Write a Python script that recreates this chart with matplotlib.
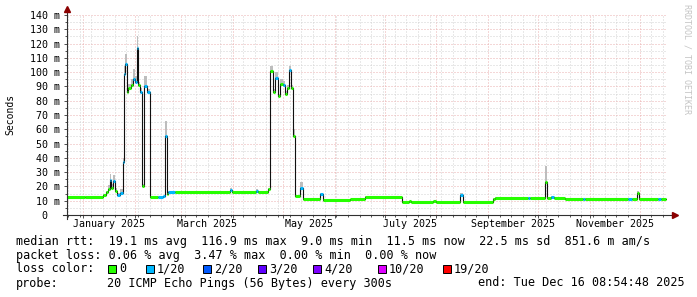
import pandas as pd
import matplotlib
matplotlib.use("Agg")
import matplotlib.pyplot as plt
import matplotlib.dates as mdates
import matplotlib.ticker as mticker
from matplotlib.patches import Rectangle

plt.rcParams["font.family"] = ["DejaVu Sans Mono"]

W, H = 697, 297

# median rtt, step points (ms)
rtt_time = [
    "2024-12-22 10:00", "2025-01-02 05:00", "2025-01-13 00:00", "2025-01-14 19:00",
    "2025-01-16 00:00", "2025-01-17 05:00", "2025-01-18 02:00", "2025-01-19 00:00",
    "2025-01-20 05:00", "2025-01-21 10:00", "2025-01-23 05:00", "2025-01-25 00:00",
    "2025-01-25 14:00", "2025-01-26 05:00", "2025-01-27 10:00", "2025-01-28 00:00",
    "2025-01-29 19:00", "2025-01-31 00:00", "2025-02-01 05:00", "2025-02-02 10:00",
    "2025-02-03 00:00", "2025-02-04 05:00", "2025-02-05 10:00", "2025-02-06 14:00",
    "2025-02-08 10:00", "2025-02-10 05:00", "2025-02-15 00:00", "2025-02-18 00:00",
    "2025-02-19 05:00", "2025-02-20 10:00", "2025-02-21 00:00", "2025-02-25 05:00",
    "2025-03-30 05:00", "2025-03-31 10:00", "2025-04-14 19:00", "2025-04-16 00:00",
    "2025-04-22 00:00", "2025-04-23 05:00", "2025-04-25 00:00", "2025-04-26 05:00",
    "2025-04-28 00:00", "2025-04-29 05:00", "2025-05-01 00:00", "2025-05-02 05:00",
    "2025-05-03 10:00", "2025-05-04 14:00", "2025-05-05 19:00", "2025-05-07 00:00",
    "2025-05-08 05:00", "2025-05-11 05:00", "2025-05-13 00:00", "2025-05-23 05:00",
    "2025-05-25 00:00", "2025-06-10 05:00", "2025-06-19 05:00", "2025-07-11 10:00",
    "2025-07-15 14:00", "2025-07-16 19:00", "2025-07-30 00:00", "2025-07-31 19:00",
    "2025-08-15 05:00", "2025-08-17 00:00", "2025-09-04 00:00", "2025-09-05 05:00",
    "2025-09-25 00:00", "2025-09-26 00:00", "2025-10-05 05:00", "2025-10-06 10:00",
    "2025-10-08 19:00", "2025-10-10 14:00", "2025-10-17 05:00", "2025-10-28 00:00",
    "2025-10-29 00:00", "2025-11-24 00:00", "2025-11-26 12:00", "2025-11-29 10:00",
    "2025-11-30 14:00", "2025-12-12 00:00", "2025-12-14 00:00", "2025-12-16 19:00",
]
rtt_median = [
    12.3, 12.8, 14.2, 16.0,
    18.0, 24.5, 19.0, 24.0,
    17.0, 14.0, 15.5, 37.0,
    99.0, 106.0, 86.0, 89.0,
    91.0, 95.0, 93.0, 117.0,
    91.0, 86.0, 20.0, 90.0,
    86.0, 12.5, 12.5, 13.0,
    55.0, 15.0, 16.0, 16.0,
    17.5, 16.0, 17.0, 16.0,
    18.0, 101.0, 86.0, 96.0,
    83.0, 92.0, 91.0, 85.0,
    89.0, 101.5, 89.0, 55.0,
    13.3, 19.0, 11.0, 14.7,
    10.5, 11.0, 12.8, 9.1,
    9.5, 9.0, 9.6, 9.2,
    14.0, 9.3, 11.2, 12.2,
    12.2, 12.2, 23.0, 12.2,
    12.8, 12.2, 11.5, 11.5,
    11.5, 11.5, 11.5, 15.5,
    11.5, 11.5, 11.5, 11.5,
]
# packet loss bucket per step (0 -> 0/20, 1 -> 1/20)
rtt_loss = [
    0, 0, 0, 0,
    0, 1, 0, 1,
    0, 1, 1, 1,
    1, 1, 0, 0,
    0, 1, 1, 1,
    0, 1, 0, 1,
    1, 0, 1, 1,
    1, 0, 1, 0,
    1, 0, 1, 0,
    0, 0, 0, 1,
    0, 0, 1, 0,
    0, 1, 0, 0,
    0, 1, 0, 1,
    0, 0, 0, 0,
    0, 0, 0, 0,
    1, 0, 0, 0,
    1, 0, 0, 0,
    1, 0, 0, 1,
    0, 1, 0, 0,
    0, 1, 0, 0,
]
# top of the smoke (slowest pings) per step (ms)
rtt_smoke = [
    12.8, 13.4, 15.0, 17.0,
    21.0, 29.0, 22.0, 28.0,
    19.0, 15.5, 18.0, 40.0,
    104.0, 113.0, 89.0, 92.0,
    95.0, 102.0, 97.0, 125.0,
    93.0, 89.0, 22.0, 97.0,
    88.0, 13.0, 13.0, 13.5,
    66.0, 16.0, 17.0, 16.6,
    19.0, 16.6, 18.0, 16.6,
    18.8, 104.0, 88.0, 100.0,
    85.0, 95.0, 94.0, 87.0,
    91.0, 104.0, 91.0, 60.0,
    14.0, 23.0, 11.6, 15.5,
    11.0, 11.5, 13.3, 9.6,
    10.0, 9.5, 10.0, 9.6,
    15.5, 9.8, 11.7, 12.7,
    12.7, 12.7, 34.0, 12.7,
    13.3, 12.7, 12.0, 12.0,
    12.0, 12.0, 12.0, 16.5,
    12.0, 12.0, 12.0, 12.0,
]

loss_labels = ["0", "1/20", "2/20", "3/20", "4/20", "10/20", "19/20"]
loss_colors = ["#26ff00", "#00b8ff", "#0059ff", "#5e00ff", "#7e00ff", "#dd00ff", "#ff0000"]

month_labels = ["January 2025", "March 2025", "May 2025", "July 2025",
                "September 2025", "November 2025"]
month_starts = ["2025-01-01", "2025-03-01", "2025-05-01", "2025-07-01",
                "2025-09-01", "2025-11-01"]

x_start = pd.Timestamp("2024-12-22 10:00")
x_end = pd.Timestamp("2025-12-17 10:00")

legend_rtt = "median rtt:  19.1 ms avg  116.9 ms max  9.0 ms min  11.5 ms now  22.5 ms sd  851.6 m am/s"
legend_loss = "packet loss: 0.06 % avg  3.47 % max  0.00 % min  0.00 % now"
probe_text = "20 ICMP Echo Pings (56 Bytes) every 300s"
end_text = "end: Tue Dec 16 08:54:48 2025"


def fx(x):
    return x / W


def fy(y):
    return 1 - y / H


t = pd.to_datetime(rtt_time)

fig = plt.figure(figsize=(W / 100, H / 100), dpi=100)
ax = fig.add_axes([fx(67), 82 / H, 600 / W, 200 / H])
ax.set_xlim(x_start, x_end)
ax.set_ylim(0, 140)

# smoke
ax.fill_between(t, rtt_median, rtt_smoke, step="post", color="#bdbdbd", lw=0, zorder=2)
# median: thin black step plus loss-coloured horizontal pieces
ax.step(t, rtt_median, where="post", color="#101010", lw=0.8, zorder=3)
seg_colors = [loss_colors[l] for l in rtt_loss[:-1]]
ax.hlines(rtt_median[:-1], t[:-1], t[1:], colors=seg_colors, lw=2.2, zorder=4,
          capstyle="butt")

# grid
ax.set_axisbelow(True)
ax.xaxis.set_major_locator(mdates.MonthLocator())
ax.xaxis.set_minor_locator(mdates.WeekdayLocator(byweekday=mdates.MO))
ax.xaxis.set_major_formatter(mticker.NullFormatter())
ax.yaxis.set_major_locator(mticker.MultipleLocator(10))
ax.yaxis.set_minor_locator(mticker.MultipleLocator(5))
ax.yaxis.set_major_formatter(mticker.FuncFormatter(
    lambda v, p: f"{int(v)} m" if v else "0  "))
ax.grid(which="minor", color="#d2d2d2", lw=0.72, ls=(0, (1, 2)))
ax.grid(which="major", color="#eab0b0", lw=0.72, ls=(0, (1, 2)))

for s in ax.spines.values():
    s.set_visible(False)
ax.tick_params(axis="both", which="both", color="#555555", width=0.72)
ax.tick_params(axis="y", which="major", length=2.2, pad=2.9, labelsize=7.2)
ax.tick_params(axis="y", which="minor", length=1.2)
ax.tick_params(axis="x", which="major", length=2.2)
ax.tick_params(axis="x", which="minor", length=1.2)

# axes with arrows
ax.plot([0, 0], [-4 / 200, 1 + 4 / 200], transform=ax.transAxes, color="#303030",
        lw=0.8, clip_on=False, zorder=5)
ax.plot([-4 / 600, 1 + 5 / 600], [0, 0], transform=ax.transAxes, color="#303030",
        lw=0.8, clip_on=False, zorder=5)
ax.plot([0], [1 + 6 / 200], transform=ax.transAxes, marker="^", ms=4, color="#8b0000",
        clip_on=False, zorder=6)
ax.plot([1 + 8 / 600], [0], transform=ax.transAxes, marker=">", ms=4, color="#8b0000",
        clip_on=False, zorder=6)

# month labels, centred on the month
for lab, ms in zip(month_labels, month_starts):
    m0 = pd.Timestamp(ms)
    m1 = m0 + pd.offsets.MonthBegin(1)
    ax.text(m0 + (m1 - m0) / 2, -9.3 / 200, lab, transform=ax.get_xaxis_transform(),
            ha="center", va="center", fontsize=7.2)

fig.text(fx(10), fy(114), "Seconds", rotation=90, ha="center", va="center", fontsize=7)
fig.text(fx(687), fy(4), "RRDTOOL / TOBI OETIKER", rotation=270, ha="center", va="top",
         fontsize=6, color="#c4c4c4")

# legend block
fig.text(fx(16), fy(241), legend_rtt, ha="left", va="center", fontsize=8.5)
fig.text(fx(16), fy(255), legend_loss, ha="left", va="center", fontsize=8.5)
fig.text(fx(16), fy(269), "loss color:", ha="left", va="center", fontsize=8.5)
box_x = [108, 146, 203, 258, 313, 378, 443]
for bx, lab, col in zip(box_x, loss_labels, loss_colors):
    fig.add_artist(Rectangle((fx(bx), fy(272.5)), 8 / W, 8 / H, transform=fig.transFigure,
                             facecolor=col, edgecolor="black", lw=0.7))
    fig.text(fx(bx + 11), fy(269), lab, ha="left", va="center", fontsize=8.5)
fig.text(fx(16), fy(283), "probe:", ha="left", va="center", fontsize=8.5)
fig.text(fx(107), fy(283), probe_text, ha="left", va="center", fontsize=8.5)
fig.text(fx(478), fy(283), end_text, ha="left", va="center", fontsize=8.5)

fig.savefig("out.png", dpi=100)
